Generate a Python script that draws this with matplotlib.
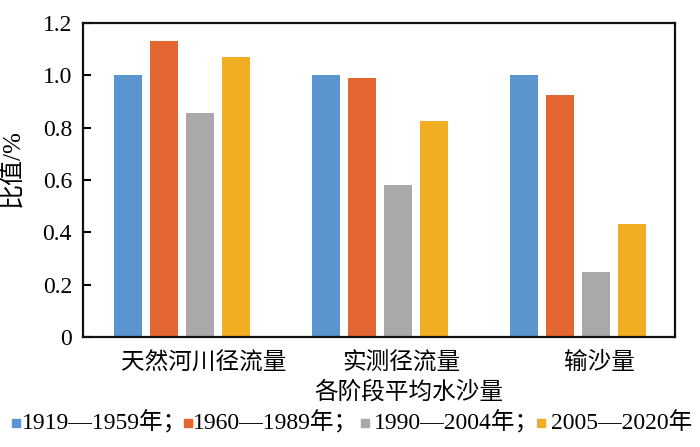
import numpy as np
import matplotlib
matplotlib.use('Agg')
import matplotlib.pyplot as plt
from matplotlib.patches import Rectangle

plt.rcParams['font.family'] = ['Liberation Serif', 'Noto Sans CJK SC', 'DejaVu Sans']

categories = ['天然河川径流量', '实测径流量', '输沙量']
series_names = ['1919—1959年', '1960—1989年', '1990—2004年', '2005—2020年']
v1919 = [1.0, 1.0, 1.0]
v1960 = [1.13, 0.99, 0.925]
v1990 = [0.855, 0.58, 0.25]
v2005 = [1.07, 0.825, 0.43]
colors = ['#5b95d0', '#e46733', '#aaa8a8', '#f2ae22']
yticks = [0, 0.2, 0.4, 0.6, 0.8, 1.0, 1.2]

W, H = 700, 447
fig = plt.figure(figsize=(7, 4.47), dpi=100)
ax = fig.add_axes([83/W, 1-337/H, (675-83)/W, (337-23)/H])

x = np.arange(3)
width = 0.143
gap = 0.182
for i, vals in enumerate([v1919, v1960, v1990, v2005]):
    ax.bar(x + (i-1.5)*gap, vals, width, color=colors[i])

ax.set_xlim(-0.5, 2.49)
ax.set_ylim(0, 1.2)
ax.set_yticks(yticks)
ax.set_yticklabels(['%g' % t if t == 0 else '%.1f' % t for t in yticks], fontsize=17)
# the labels sit a bit right of the bar groups in the original
ax.set_xticks(x + 0.11)
ax.set_xticklabels(categories, fontsize=17)
ax.tick_params(axis='y', direction='in', length=6, width=1.5, pad=8)
ax.tick_params(axis='x', length=0, pad=11)
for s in ax.spines.values():
    s.set_linewidth(1.6)
    s.set_color('#111111')
ax.set_ylabel('比值/%', fontsize=18)
ax.yaxis.set_label_coords(-0.1, 0.538)

fig.text(409/W, 1-392/H, '各阶段平均水沙量', fontsize=17, ha='center', va='center')

# legend line is laid out by hand to keep the full-width semicolons
legend_x = [12, 184, 361, 537]
text_x = [22, 193, 374, 551]
for i, name in enumerate(series_names):
    fig.add_artist(Rectangle((legend_x[i]/W, 1-427/H), 8/W, 8/H, color=colors[i], transform=fig.transFigure))
    label = name + '；' if i < 3 else name
    fig.text(text_x[i]/W, 1-423/H, label, fontsize=17, ha='left', va='center')

fig.savefig('out.png', dpi=100)
